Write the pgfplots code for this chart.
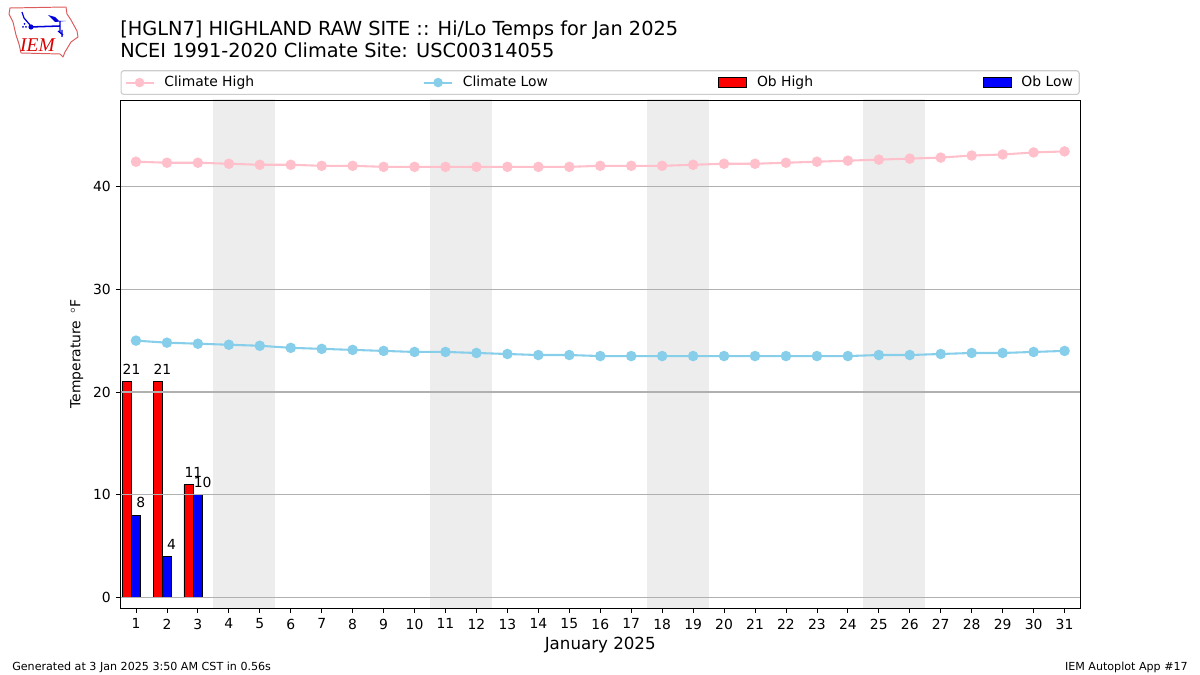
\documentclass[border=0pt]{standalone}
\usepackage{pgfplots}
\pgfplotsset{compat=1.18}
\usepackage{fontspec}
\setmainfont{DejaVu Sans}
\newfontfamily\logofont{Liberation Serif}
\definecolor{climhi}{HTML}{FFC0CB}
\definecolor{climlo}{HTML}{87CEEB}
\definecolor{span}{HTML}{EDEDED}
\definecolor{gridc}{HTML}{B0B0B0}
\definecolor{legframe}{HTML}{CCCCCC}
\definecolor{logored}{HTML}{DD5A5A}
\begin{document}
\begin{tikzpicture}
\useasboundingbox (0pt,0pt) rectangle (864pt,-486pt);
\begin{scope}[x=0.72pt,y=-0.72pt]
% logo
\draw[logored,line width=0.7pt,line join=round] (10,8) -- (66,7) -- (67,14) -- (71,20) -- (77,31) -- (78,37) -- (71,42) -- (68,47) -- (65,52) -- (63,57) -- (60,54) -- (21,53) -- (19,44) -- (16,35) -- (13,22) -- (9,14) -- cycle;
\draw[blue!85!black,line width=1.1pt] (30,27) -- (60,26);
\fill[blue!85!black] (31,27) circle (2.6);
\draw[blue!85!black,line width=0.9pt] (30,25) -- (24,18) -- (22,12);
\fill[blue!85!black] (48,15) -- (55,17) -- (59,21) -- (66,21) -- (55,22) -- cycle;
\draw[blue!85!black,line width=0.9pt] (60,21) -- (60,32) (58,31) -- (63,35) (62,30) -- (62,37);
\fill[blue!85!black] (23,27) circle (1) (26,27) circle (1) (24.5,24) circle (1);
\node[red!85!black,font=\logofont\itshape\fontsize{14}{14}\selectfont,inner sep=0pt] at (37.5,45.5) {IEM};
% titles
\node[anchor=base west,inner sep=0pt,font=\fontsize{13.92}{14}\selectfont] at (120,35.5) {[HGLN7] HIGHLAND RAW SITE :: Hi/Lo Temps for Jan 2025};
\node[anchor=base west,inner sep=0pt,font=\fontsize{13.92}{14}\selectfont] at (120,58) {NCEI 1991-2020 Climate Site: USC00314055};
\node[anchor=base west,inner sep=0pt,font=\fontsize{8}{8}\selectfont] at (12,670) {Generated at 3 Jan 2025 3:50 AM CST in 0.56s};
\node[anchor=base east,inner sep=0pt,font=\fontsize{8}{8}\selectfont] at (1188,670) {IEM Autoplot App \#17};
\end{scope}
\begin{axis}[
  at={(86.76pt,-437.76pt)},anchor=south west,
  scale only axis,width=690.84pt,height=365.76pt,
  xmin=0.5,xmax=31.5,ymin=-1,ymax=48.4,
  xtick={1,...,31},ytick={0,10,20,30,40},
  tick align=outside,tick style={black,line width=0.6pt},
  major tick length=3.5pt,
  xtick pos=bottom,ytick pos=left,
  axis line style={line width=0.6pt},
  ymajorgrids,grid style={gridc,line width=0.8pt},
  axis on top,
  clip=true,
  tick label style={font=\fontsize{10}{10}\selectfont},
  xticklabel style={yshift=-0.7pt},
  /pgf/number format/assume math mode=true,
  xlabel={January 2025},
  xlabel style={font=\fontsize{12}{12}\selectfont,at={(axis description cs:0.5,0)},anchor=base,yshift=-30pt},
  ylabel={Temperature \,$^\circ$F},
  ylabel style={font=\fontsize{10}{10}\selectfont,at={(axis description cs:0,0.5)},anchor=center,yshift=31.5pt},
  legend columns=4,
  legend cell align=left,
  legend style={at={(0,1)},anchor=south west,yshift=3.6pt,
    draw=legframe,line width=0.8pt,rounded corners=2pt,
    inner xsep=2.5pt,inner ysep=3pt,
    font=\fontsize{10}{12}\selectfont,
    /tikz/every even column/.append style={column sep=0pt},
    /tikz/every odd column/.append style={column sep=5pt},
    nodes={inner xsep=2pt,inner ysep=1pt}},
]
% weekend spans
\addplot[forget plot,fill=span,draw=none] coordinates {(3.5,-5)(5.5,-5)(5.5,60)(3.5,60)} -- cycle;
\addplot[forget plot,fill=span,draw=none] coordinates {(10.5,-5)(12.5,-5)(12.5,60)(10.5,60)} -- cycle;
\addplot[forget plot,fill=span,draw=none] coordinates {(17.5,-5)(19.5,-5)(19.5,60)(17.5,60)} -- cycle;
\addplot[forget plot,fill=span,draw=none] coordinates {(24.5,-5)(26.5,-5)(26.5,60)(24.5,60)} -- cycle;
% climate
\addplot[forget plot,climhi,line width=1.5pt,mark=*,mark size=3pt,mark options={fill=climhi,draw=climhi}] coordinates {
(1,42.4)(2,42.3)(3,42.3)(4,42.2)(5,42.1)(6,42.1)(7,42.0)(8,42.0)(9,41.9)(10,41.9)(11,41.9)(12,41.9)(13,41.9)(14,41.9)(15,41.9)(16,42.0)(17,42.0)(18,42.0)(19,42.1)(20,42.2)(21,42.2)(22,42.3)(23,42.4)(24,42.5)(25,42.6)(26,42.7)(27,42.8)(28,43.0)(29,43.1)(30,43.3)(31,43.4)};
\addplot[forget plot,climlo,line width=1.5pt,mark=*,mark size=3pt,mark options={fill=climlo,draw=climlo}] coordinates {
(1,25.0)(2,24.8)(3,24.7)(4,24.6)(5,24.5)(6,24.3)(7,24.2)(8,24.1)(9,24.0)(10,23.9)(11,23.9)(12,23.8)(13,23.7)(14,23.6)(15,23.6)(16,23.5)(17,23.5)(18,23.5)(19,23.5)(20,23.5)(21,23.5)(22,23.5)(23,23.5)(24,23.5)(25,23.6)(26,23.6)(27,23.7)(28,23.8)(29,23.8)(30,23.9)(31,24.0)};
% observations
\addplot[forget plot,ybar,bar width=0.3,bar shift=-0.3,fill=red,draw=black,line width=0.6pt,
  nodes near coords,every node near coord/.style={font=\fontsize{10}{10}\selectfont,black,xshift=-3.2pt,yshift=2.6pt,inner sep=2.5pt,anchor=south}
  ] coordinates {(1,21)(2,21)(3,11)};
\addplot[forget plot,ybar,bar width=0.3,bar shift=0,fill=blue,draw=black,line width=0.6pt,
  nodes near coords,every node near coord/.style={font=\fontsize{10}{10}\selectfont,black,xshift=3.4pt,yshift=2.6pt,inner sep=2.5pt,anchor=south}
  ] coordinates {(1,8)(2,4)(3,10)};
% legend
\addlegendimage{legend image code/.code={\draw[climhi,line width=1.5pt,sharp corners] (0pt,0pt) -- (20.2pt,0pt); \fill[climhi] (10.1pt,0pt) circle (3pt);}}
\addlegendentry{\makebox[184.2pt][l]{Climate High}}
\addlegendimage{legend image code/.code={\draw[climlo,line width=1.5pt,sharp corners] (0pt,0pt) -- (20.2pt,0pt); \fill[climlo] (10.1pt,0pt) circle (3pt);}}
\addlegendentry{\makebox[182pt][l]{Climate Low}}
\addlegendimage{legend image code/.code={\draw[fill=red,draw=black,line width=0.6pt,sharp corners] (0pt,-3.6pt) rectangle (20.2pt,3.6pt);}}
\addlegendentry{\makebox[160.6pt][l]{Ob High}}
\addlegendimage{legend image code/.code={\draw[fill=blue,draw=black,line width=0.6pt,sharp corners] (0pt,-3.6pt) rectangle (20.2pt,3.6pt);}}
\addlegendentry{Ob Low}
\end{axis}
\end{tikzpicture}
\end{document}
